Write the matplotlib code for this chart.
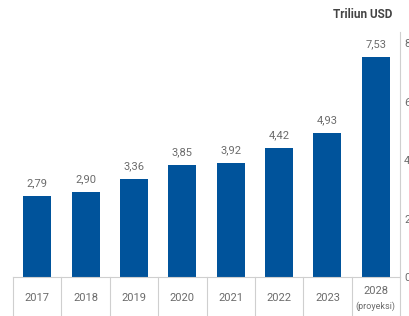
import matplotlib.pyplot as plt

plt.rcParams['font.family'] = ['Roboto', 'DejaVu Sans']

years = ["2017", "2018", "2019", "2020", "2021", "2022", "2023", "2028"]
values = [2.79, 2.90, 3.36, 3.85, 3.92, 4.42, 4.93, 7.53]
value_labels = ["2,79", "2,90", "3,36", "3,85", "3,92", "4,42", "4,93", "7,53"]
y_ticks = [0, 2, 4, 6, 8]

BAR_COLOR = "#00539B"
TEXT_GRAY = "#6b6b6b"
LINE_GRAY = "#cfcfcf"


def main():
    fig = plt.figure(figsize=(4.09, 3.16), dpi=100)
    ax = fig.add_axes([13 / 409, 39 / 316, 387 / 409, 245 / 316])

    x = list(range(len(years)))
    ax.bar(x, values, width=0.58, color=BAR_COLOR, zorder=2)

    for xi, v, lab in zip(x, values, value_labels):
        ax.annotate(lab, (xi, v), xytext=(0, 7), textcoords="offset points",
                    ha="center", va="baseline", fontsize=8, color=TEXT_GRAY)

    ax.set_xlim(-0.5, len(years) - 0.5)
    ax.set_ylim(0, 8.39)

    for s in ["top", "left", "bottom"]:
        ax.spines[s].set_visible(False)
    ax.spines["right"].set_color(LINE_GRAY)
    ax.yaxis.tick_right()
    ax.set_yticks(y_ticks)
    ax.set_yticklabels([str(t) for t in y_ticks])
    ax.tick_params(axis="y", length=0, pad=3, labelsize=8, labelcolor=TEXT_GRAY)
    ax.set_xticks([])

    # table under the bars
    trans = ax.get_xaxis_transform()
    ax.plot([-0.5, len(years) - 0.5], [0, 0], color=LINE_GRAY, lw=0.8,
            transform=trans, clip_on=False)
    for i in range(len(years) + 1):
        ax.plot([i - 0.5, i - 0.5], [0, -0.25], color=LINE_GRAY, lw=0.8,
                transform=trans, clip_on=False)

    for xi, yr in zip(x, years):
        if yr == "2028":
            ax.text(xi, -0.058, yr, ha="center", va="center", fontsize=8,
                    color=TEXT_GRAY, transform=trans)
            ax.text(xi, -0.12, "(proyeksi)", ha="center", va="center",
                    fontsize=6.5, color=TEXT_GRAY, transform=trans)
        else:
            ax.text(xi, -0.087, yr, ha="center", va="center", fontsize=8,
                    color=TEXT_GRAY, transform=trans)

    fig.text(392 / 409, 1 - 15 / 316, "Triliun USD", ha="right", va="center",
             fontsize=8.5, fontweight="bold", color="#444444")

    fig.savefig("out.png", dpi=100)


if __name__ == "__main__":
    main()
